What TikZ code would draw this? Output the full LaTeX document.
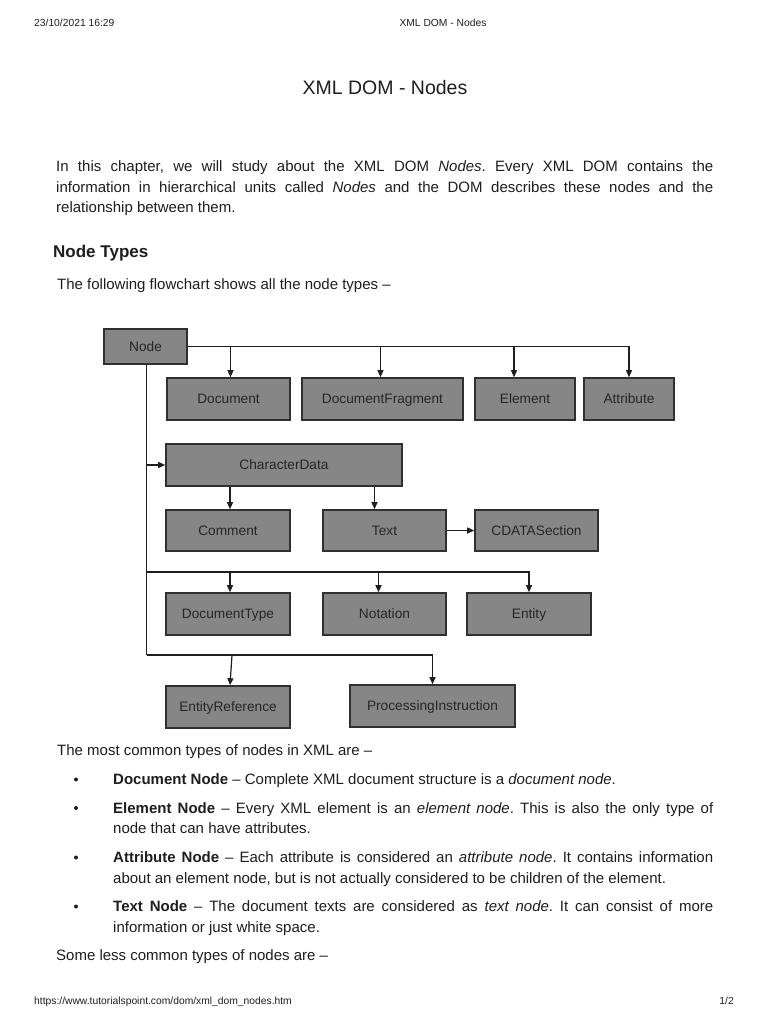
\documentclass[tikz,border=0pt]{standalone}
\usepackage{fontspec}
\setmainfont{Liberation Sans}
\usetikzlibrary{arrows.meta}
\definecolor{boxfill}{HTML}{868686}
\definecolor{boxline}{HTML}{303030}
\definecolor{ink}{HTML}{1E1E1E}
\definecolor{boxtext}{HTML}{262626}
\frenchspacing
\begin{document}
\begin{tikzpicture}[x=1pt,y=-1pt,
  box/.style={draw=boxline, line width=1.6pt, fill=boxfill, minimum height=42pt, inner sep=0pt, text height=9.5pt, text depth=0pt, font=\fontsize{13.7}{16}\selectfont, text=boxtext},
  arr/.style={-{Triangle[length=7pt,width=6pt]}, line width=1.2pt, draw=ink},
  ln/.style={line width=1.2pt, draw=ink},
  txt/.style={anchor=base west, inner sep=0pt, font=\fontsize{15}{18}\selectfont, text=ink},
  small/.style={anchor=base west, inner sep=0pt, font=\fontsize{10.3}{12}\selectfont, text=ink},
  bul/.style={circle, fill=ink, inner sep=0pt, minimum size=4pt}]
\useasboundingbox[fill=white] (0,0) rectangle (768,1024);

% header
\node[small] (date) at (34,27) {23/10/2021 16:29};
\node[small, anchor=base] (htitle) at (443,27) {XML DOM - Nodes};
\node[anchor=base, inner sep=0pt, font=\fontsize{19.5}{22}\selectfont, text=ink] (title) at (385,95) {XML DOM - Nodes};

% intro paragraph
\node[txt] (p1) at (56,172) {\makebox[657pt][s]{In this chapter, we will study about the XML DOM \textit{Nodes}. Every XML DOM contains the}};
\node[txt] (p2) at (56,192.5) {\makebox[657pt][s]{information in hierarchical units called \textit{Nodes} and the DOM describes these nodes and the}};
\node[txt] (p3) at (56,213) {relationship between them.};
\node[txt, font=\fontsize{17}{20}\selectfont\bfseries] (h2) at (53,257) {Node Types};
\node[txt] (p4) at (57,289.5) {The following flowchart shows all the node types –};

% diagram boxes
\node[box, minimum width=83pt, minimum height=35pt] (node) at (145.5,346.5) {Node};
\node[box, minimum width=123pt] (doc) at (228.5,399) {Document};
\node[box, minimum width=161pt] (frag) at (382.5,399) {DocumentFragment};
\node[box, minimum width=100pt] (elem) at (525,399) {Element};
\node[box, minimum width=90pt] (attr) at (629,399) {Attribute};
\node[box, minimum width=236pt] (cdata) at (284,465) {CharacterData};
\node[box, minimum width=124pt, minimum height=41pt] (comm) at (228,530.5) {Comment};
\node[box, minimum width=123pt, minimum height=41pt] (text) at (384.5,530.5) {Text};
\node[box, minimum width=123pt, minimum height=41pt] (cdsec) at (536.5,530.5) {CDATASection};
\node[box, minimum width=124pt] (dtype) at (228,614) {DocumentType};
\node[box, minimum width=123pt] (nota) at (384.5,614) {Notation};
\node[box, minimum width=124pt] (ent) at (529,614) {Entity};
\node[box, minimum width=124pt] (eref) at (228,707) {EntityReference};
\node[box, minimum width=165pt] (pi) at (432.5,706) {ProcessingInstruction};

% connectors
\draw[arr] (node.east) -| (attr.north);
\draw[arr] ([xshift=2pt]node.east -| doc.north) -- ([xshift=2pt]doc.north);
\draw[arr] ([xshift=-2pt]node.east -| frag.north) -- ([xshift=-2pt]frag.north);
\draw[arr] ([xshift=-11pt]node.east -| elem.north) -- ([xshift=-11pt]elem.north);
\coordinate (j3) at (146.5,572);
\coordinate (j4) at (146.5,655);
\draw[ln] ([xshift=1pt]node.south) -- (j4);
\draw[arr] (j4 |- cdata.west) -- (cdata.west);
\draw[arr] ([xshift=2pt]cdata.south -| comm.north) -- ([xshift=2pt]comm.north);
\draw[arr] ([xshift=-10pt]cdata.south -| text.north) -- ([xshift=-10pt]text.north);
\draw[arr] (text.east) -- (cdsec.west);
\draw[arr] (j3) -| (ent.north);
\draw[arr] ([xshift=2pt]j3 -| dtype.north) -- ([xshift=2pt]dtype.north);
\draw[arr] ([xshift=-6pt]j3 -| nota.north) -- ([xshift=-6pt]nota.north);
\draw[arr] (j4) -| (pi.north);
\draw[arr] ([xshift=4pt]j4 -| eref.north) -- ([xshift=2pt]eref.north);

% lower text
\node[txt] (p5) at (57,755.5) {The most common types of nodes in XML are –};
\node[bul] (b1) at (76,779.5) {};
\node[txt] (l1) at (113,784.5) {\textbf{Document Node} – Complete XML document structure is a \textit{document node}.};
\node[bul] (b2) at (76,808) {};
\node[txt] (l2a) at (113,813) {\makebox[600pt][s]{\textbf{Element Node} – Every XML element is an \textit{element node}. This is also the only type of}};
\node[txt] (l2b) at (113,833.5) {node that can have attributes.};
\node[bul] (b3) at (76,857.5) {};
\node[txt] (l3a) at (113,862.5) {\makebox[600pt][s]{\textbf{Attribute Node} – Each attribute is considered an \textit{attribute node}. It contains information}};
\node[txt] (l3b) at (113,883) {about an element node, but is not actually considered to be children of the element.};
\node[bul] (b4) at (76,906.5) {};
\node[txt] (l4a) at (113,911.5) {\makebox[600pt][s]{\textbf{Text Node} – The document texts are considered as \textit{text node}. It can consist of more}};
\node[txt] (l4b) at (113,932) {information or just white space.};
\node[txt] (p6) at (56,960.5) {Some less common types of nodes are –};

% footer
\node[small] (url) at (34,1004) {https://www.tutorialspoint.com/dom/xml\_dom\_nodes.htm};
\node[small, anchor=base east] (pg) at (734,1004) {1/2};
\end{tikzpicture}
\end{document}
